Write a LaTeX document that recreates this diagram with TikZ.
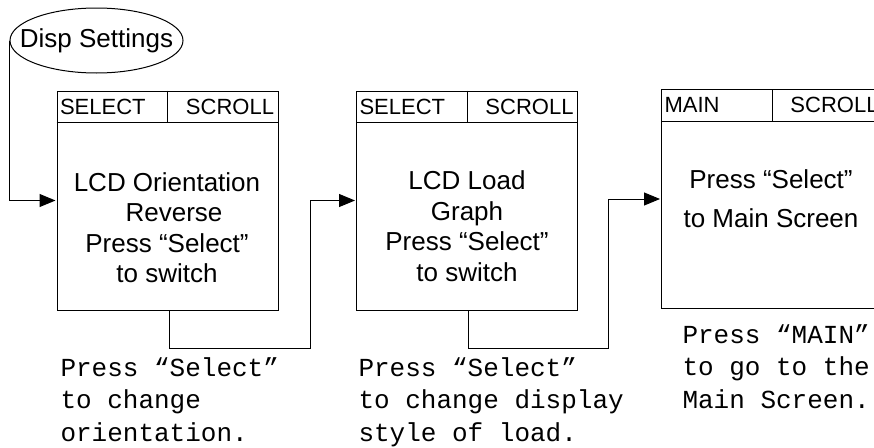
\documentclass[tikz,border=0pt]{standalone}
\usepackage{fontspec}
\setmainfont{Liberation Sans}
\setmonofont{Liberation Mono}
\usetikzlibrary{arrows.meta, shapes.geometric}

\begin{document}
\begin{tikzpicture}[x=1pt, y=-1pt, line width=1pt,
    screen/.style={draw, rectangle, minimum width=221pt, minimum height=219pt, inner sep=0pt},
    keyl/.style={anchor=west, font=\fontsize{22}{26}\selectfont, inner sep=0pt},
    keyr/.style={anchor=east, font=\fontsize{22}{26}\selectfont, inner sep=0pt},
    body/.style={align=center, font=\fontsize{26}{30.5}\selectfont, inner sep=0pt},
    note/.style={anchor=north west, align=left, inner sep=0pt, font=\ttfamily\fontsize{26}{32.5}\selectfont},
    flow/.style={-{Triangle[length=16pt, width=13pt]}, shorten >=1pt}]
  \useasboundingbox (0, 0) rectangle (874, 447);
  \clip (0, 0) rectangle (874, 447);

  \node[draw, ellipse, minimum width=173pt, minimum height=65pt, inner sep=0pt,
    font=\fontsize{26}{30}\selectfont] (disp) at (96.5, 40.5) {\makebox[0pt]{Disp Settings}};

  % the three screens
  \node[screen] (box1) at (167.5, 200.5) {};
  \node[screen] (box2) at (467, 200.5) {};
  \node[screen] (box3) at (772, 199) {};

  \foreach \b/\k in {box1/SELECT, box2/SELECT, box3/MAIN} {
    \draw ([yshift=-32pt]\b.north west) -- ([yshift=-32pt]\b.north east);
    \draw (\b.north) -- ++(0, 32);
    \node[keyl] at ([xshift=3pt, yshift=-16pt]\b.north west) {\k};
    \node[keyr] at ([xshift=-4pt, yshift=-16pt]\b.north east) {SCROLL};
  }

  \node[body] (txt1) at (167, 227.5) {LCD Orientation\\\hspace*{14pt}Reverse\\Press “Select”\\to switch};
  \node[body] (txt2) at (467, 226) {LCD Load\\Graph\\Press “Select”\\to switch};
  \node[body, font=\fontsize{26}{39}\selectfont] (txt3) at (771, 198.5) {Press “Select”\\to Main Screen};

  % connectors
  \coordinate (j1) at (310, 348);
  \coordinate (j2) at (608, 348);
  \draw[flow] (disp.west) |- (box1.west);
  \draw[flow] ([xshift=2pt]box1.south) |- (j1) |- (box2.west);
  \draw[flow] ([xshift=1pt]box2.south) |- (j2) |- (box3.west);

  \node[note] (note1) at (60, 357) {Press “Select”\\to change\\orientation.};
  \node[note] (note2) at (358, 357) {Press “Select”\\to change display\\style of load.};
  \node[note] (note3) at (682, 324) {Press “MAIN”\\to go to the\\Main Screen.};
\end{tikzpicture}
\end{document}
